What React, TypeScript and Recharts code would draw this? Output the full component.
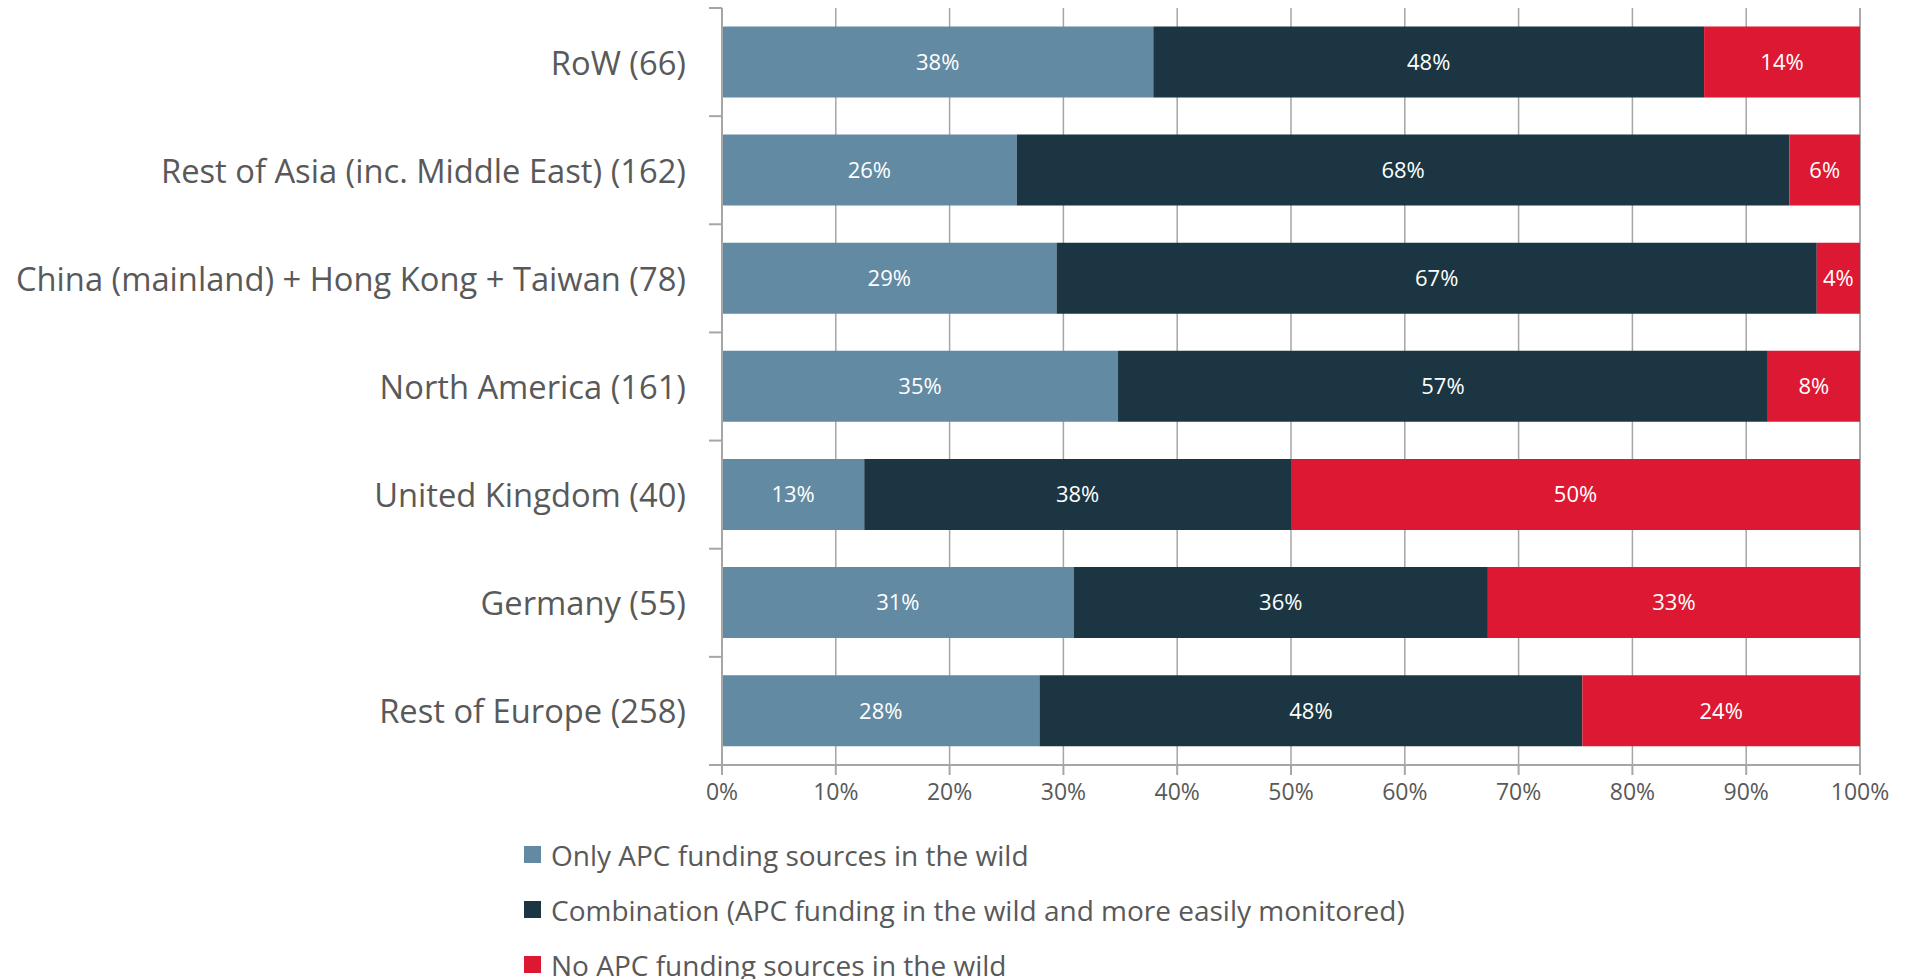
import { BarChart, Bar, XAxis, YAxis, CartesianGrid, Legend, LabelList } from 'recharts';

// regions (n = responses), top to bottom as in the picture
const regions = [
  'RoW (66)',
  'Rest of Asia (inc. Middle East) (162)',
  'China (mainland) + Hong Kong + Taiwan (78)',
  'North America (161)',
  'United Kingdom (40)',
  'Germany (55)',
  'Rest of Europe (258)',
];

// shares in %
const onlyWild = [37.9, 25.9, 29.4, 34.8, 12.5, 30.9, 27.9];
const combination = [48.4, 67.9, 66.8, 57.1, 37.5, 36.4, 47.7];
const noWild = [13.7, 6.2, 3.8, 8.1, 50.0, 32.7, 24.4];

const xTicks = [0, 10, 20, 30, 40, 50, 60, 70, 80, 90, 100];

const seriesNames = [
  'Only APC funding sources in the wild',
  'Combination (APC funding in the wild and more easily monitored)',
  'No APC funding sources in the wild',
];
const colors = ['#628AA3', '#1B3642', '#DC1832'];

const data = regions.map((r, i) => ({
  region: r,
  only: onlyWild[i],
  combo: combination[i],
  none: noWild[i],
}));

const W = 1910;
const H = 979;
const M = { top: 8, right: 50, bottom: 164, left: 0 };
const Y_W = 722;
const X_H = 50;
const AXIS = '#A6A6A6';
const TEXT = '#595959';
const FONT = '"Open Sans", sans-serif';

const band = (H - M.top - M.bottom - X_H) / regions.length;

// y tick: label + Excel-style tick marks on the category boundaries
function RegionTick({ x, y, payload, index }: any) {
  const ax = x + 36;
  return (
    <g>
      <text x={x} y={y} textAnchor="end" dominantBaseline="central" fill={TEXT} fontSize={32.7} fontFamily={FONT}>
        {payload.value}
      </text>
      <line x1={ax - 13} x2={ax} y1={y - band / 2} y2={y - band / 2} stroke={AXIS} strokeWidth={2} />
      {index === regions.length - 1 && (
        <line x1={ax - 13} x2={ax} y1={y + band / 2} y2={y + band / 2} stroke={AXIS} strokeWidth={2} />
      )}
    </g>
  );
}

function LegendBox() {
  return (
    <div style={{ fontFamily: FONT, fontSize: 28, color: TEXT }}>
      {seriesNames.map((n, i) => (
        <div key={n} style={{ display: 'flex', alignItems: 'center', height: 55 }}>
          <span style={{ width: 17, height: 17, background: colors[i], marginRight: 10, display: 'inline-block' }} />
          <span>{n}</span>
        </div>
      ))}
    </div>
  );
}

const pct = (v: any) => `${Math.round(Number(v))}%`;

export default function App() {
  return (
    <div style={{ position: 'absolute', left: 0, top: 0, width: W, height: H, background: '#fff', overflow: 'hidden' }}>
      <BarChart width={W} height={H} data={data} layout="vertical" margin={M} barCategoryGap="17%">
        <CartesianGrid horizontal={false} stroke={AXIS} strokeWidth={1.5} />
        <XAxis
          type="number"
          domain={[0, 100]}
          ticks={xTicks}
          tickFormatter={(v) => `${v}%`}
          height={X_H}
          stroke={AXIS}
          strokeWidth={2}
          tickSize={10}
          tickMargin={9}
          tick={{ fill: TEXT, fontSize: 23, fontFamily: FONT }}
          interval={0}
        />
        <YAxis
          type="category"
          dataKey="region"
          width={Y_W}
          stroke={AXIS}
          strokeWidth={2}
          tickLine={false}
          tickSize={0}
          tickMargin={36}
          tick={<RegionTick />}
          interval={0}
        />
        <Legend
          layout="vertical"
          align="center"
          verticalAlign="middle"
          content={<LegendBox />}
          wrapperStyle={{ position: 'absolute', left: 524, top: 827, width: 1100 }}
        />
        <Bar dataKey="only" stackId="a" fill={colors[0]} isAnimationActive={false}>
          <LabelList dataKey="only" position="center" formatter={pct} fill="#fff" fontSize={22} fontFamily={FONT} />
        </Bar>
        <Bar dataKey="combo" stackId="a" fill={colors[1]} isAnimationActive={false}>
          <LabelList dataKey="combo" position="center" formatter={pct} fill="#fff" fontSize={22} fontFamily={FONT} />
        </Bar>
        <Bar dataKey="none" stackId="a" fill={colors[2]} isAnimationActive={false}>
          <LabelList dataKey="none" position="center" formatter={pct} fill="#fff" fontSize={22} fontFamily={FONT} />
        </Bar>
      </BarChart>
    </div>
  );
}
